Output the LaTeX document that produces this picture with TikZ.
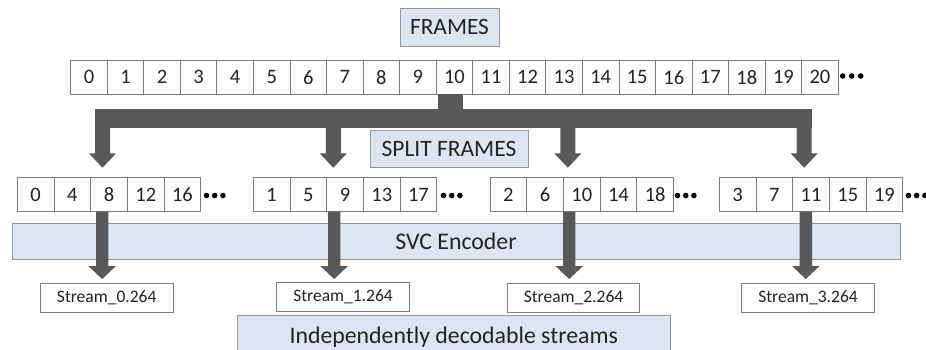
\documentclass[tikz,border=0pt]{standalone}
\usepackage{fontspec}
\setmainfont{Carlito}
\definecolor{boxblue}{RGB}{220,230,243}
\definecolor{boxline}{RGB}{150,150,150}
\definecolor{cellline}{RGB}{125,125,125}
\definecolor{arrowc}{RGB}{89,89,89}
\definecolor{txt}{RGB}{35,35,35}
\newcommand{\dArrow}[6]{\fill[arrowc] ({#1-#5},#2) -- ({#1+#5},#2) -- ({#1+#5},#3) -- ({#1+#6},#3) -- (#1,#4) -- ({#1-#6},#3) -- ({#1-#5},#3) -- cycle;}
\begin{document}
\begin{tikzpicture}[x=1pt,y=-1pt,
  bluebox/.style={draw=boxline, line width=1pt, fill=boxblue, inner sep=0pt, text=txt},
  cell/.style={draw=cellline, line width=0.9pt, fill=white, inner sep=0pt, text=txt,
    font=\fontsize{20.5}{22}\selectfont, minimum height=34.3pt},
  streambox/.style={draw=cellline, line width=0.9pt, fill=white, inner sep=0pt, text=txt,
    font=\fontsize{17.5}{20}\selectfont, minimum width=132.6pt, minimum height=29pt},
  dotc/.style={fill=black, circle, inner sep=0pt, minimum size=5.6pt}]
\useasboundingbox (0,0) rectangle (926,349);
\clip (0,0) rectangle (926,349);
\fill[white] (0,0) rectangle (926,349);

% title
\node[bluebox, minimum width=99pt, minimum height=38pt, font=\fontsize{23.4}{26}\selectfont] (frames) at (449.5,27) {FRAMES};

% top strip
\foreach \i in {0,...,20} {
  \node[cell, minimum width=36.55pt] (t\i) at ({70.7+36.55*\i+18.275},77.2) {\i};
}
\foreach \k in {0,1,2} {
  \node[dotc] (td\k) at ({842.7+9*\k},76) {};
}

% split tree
\coordinate (stemtop) at (450.5,94.3);
\fill[arrowc] (438.3,94.3) rectangle (462.7,112);
\fill[arrowc] (95,109.3) rectangle (811.7,127.5);
\foreach \cx in {102.5,333.3,567.8,804.2} {
  \dArrow{\cx}{118}{153.3}{167.7}{7.5}{13.6}
}

\node[bluebox, minimum width=158pt, minimum height=37pt, font=\fontsize{23.5}{26}\selectfont] (split) at (449,148.5) {SPLIT FRAMES};

% SVC encoder
\node[bluebox, minimum width=888pt, minimum height=36pt, font=\fontsize{23.8}{26}\selectfont] (svc) at (456,241) {SVC Encoder};

% split strips
\foreach \s/\xs/\vals/\dx in {1/17.3/{0,4,8,12,16}/203.5, 2/253.3/{1,5,9,13,17}/440.5, 3/490/{2,6,10,14,18}/674.5, 4/719.3/{3,7,11,15,19}/905.5} {
  \foreach \v [count=\k from 0] in \vals {
    \node[cell, minimum width=36.7pt] (s\s-\k) at ({\xs+36.7*\k+18.35},194.5) {\v};
  }
  \foreach \k in {0,1,2} {
    \node[dotc] (sd\s-\k) at ({\dx+3+8.2*\k},195.5) {};
  }
}

% encoder arrows
\foreach \cx in {102.2,334.2,569.2,805.8} {
  \dArrow{\cx}{211.7}{266}{279}{6.2}{13.8}
}

% streams
\node[streambox] (st0) at (106.7,298) {Stream\_0.264};
\node[streambox] (st1) at (343,297.2) {Stream\_1.264};
\node[streambox] (st2) at (573.5,297.7) {Stream\_2.264};
\node[streambox] (st3) at (808,297.7) {Stream\_3.264};

\node[bluebox, minimum width=432.7pt, minimum height=43.4pt, font=\fontsize{23.8}{26}\selectfont] (indep) at (453.7,336.7) {Independently decodable streams};
\end{tikzpicture}
\end{document}
